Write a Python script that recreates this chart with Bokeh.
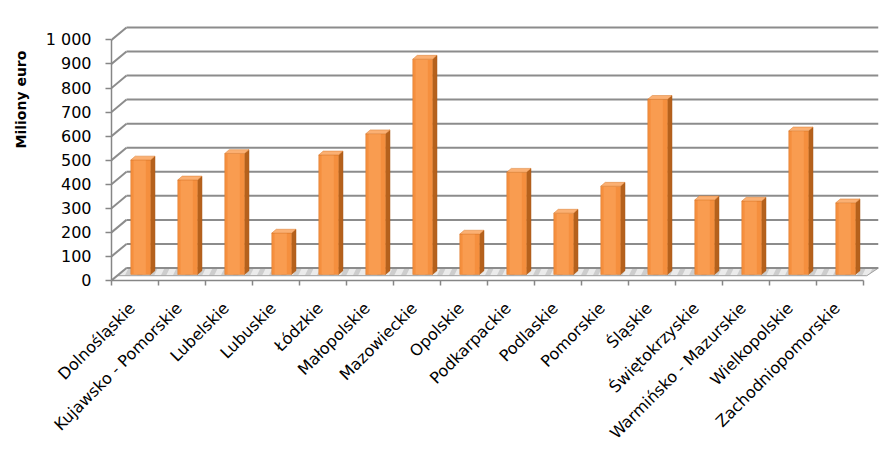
import math
from bokeh.plotting import figure
from bokeh.models import FixedTicker, Range1d, Title
from bokeh.embed import file_html
from bokeh.resources import INLINE

# ---- data ----
regions = ["Dolnośląskie", "Kujawsko - Pomorskie", "Lubelskie", "Lubuskie",
           "Łódzkie", "Małopolskie", "Mazowieckie", "Opolskie",
           "Podkarpackie", "Podlaskie", "Pomorskie", "Śląskie",
           "Świętokrzyskie", "Warmińsko - Mazurskie", "Wielkopolskie",
           "Zachodniopomorskie"]
values = [476, 393, 503, 172, 497, 585, 895, 168, 425, 255, 367, 728, 310, 305, 597, 298]
y_ticks = [0, 100, 200, 300, 400, 500, 600, 700, 800, 900, 1000]
y_tick_labels = {1000: "1 000"}
axis_title = "Miliony euro"

# ---- 3D styling constants ----
N = len(regions)
DX = 0.319      # depth shift of back wall (category units)
DY = 52         # depth shift of back wall (value units)
BASE = 25       # bar base level (front face) on floor
L_OFF, R_OFF = 0.41, 0.83
SD, SDY = 0.095, 16
GRID = "#8c8c8c"
AX = "#868686"
FONT = "DejaVu Sans"

p = figure(width=880, height=452, output_backend="svg", toolbar_location=None,
           x_range=Range1d(0, N + DX), y_range=Range1d(0, 1060),
           min_border_left=110, min_border_right=2, min_border_top=25,
           min_border_bottom=172)
p.outline_line_color = None
p.xgrid.visible = False
p.ygrid.visible = False
p.background_fill_color = "white"
p.border_fill_color = "white"

# floor
p.patch([0.123, N + 0.07, N + DX, DX], [20, 20, DY, DY],
        fill_color="#cdcdcd", line_color="#a0a0a0", line_width=1,
        hatch_pattern="/", hatch_color="white", hatch_alpha=0.6,
        hatch_scale=24, hatch_weight=6)

# back wall gridlines and side diagonals
p.multi_line([[DX, N + DX] for _ in y_ticks], [[v + DY, v + DY] for v in y_ticks],
             line_color=GRID, line_width=2)
p.multi_line([[0, DX] for _ in y_ticks], [[v, v + DY] for v in y_ticks],
             line_color=GRID, line_width=2)

# bars
lefts = [i + L_OFF for i in range(N)]
rights = [i + R_OFF for i in range(N)]
tops = [BASE + v for v in values]
p.patches([[r, r + SD, r + SD, r] for r in rights],
          [[BASE, BASE + SDY, t + SDY, t] for t in tops],
          fill_color="#b5611c", line_color="#a65715", line_width=0.5)
p.quad(left=lefts, right=rights, bottom=[BASE] * N, top=tops,
       fill_color="#f58f3e", line_color="#d97a2e", line_width=0.5)
p.quad(left=[l + 0.06 for l in lefts], right=[r - 0.1 for r in rights],
       bottom=[BASE + 1] * N, top=[t - 1 for t in tops],
       fill_color="#f99c50", line_color=None)
p.patches([[l, r, r + SD, l + SD] for l, r in zip(lefts, rights)],
          [[t, t, t + SDY, t + SDY] for t in tops],
          fill_color="#fbb073", line_color="#d97a2e", line_width=0.5)

# y axis
ya = p.yaxis[0]
ya.ticker = FixedTicker(ticks=y_ticks)
ya.bounds = (0, 1000)
ya.major_label_overrides = y_tick_labels
ya.axis_line_color = AX
ya.axis_line_width = 1.5
ya.major_tick_line_color = AX
ya.major_tick_line_width = 1.5
ya.major_tick_out = 6
ya.major_tick_in = 0
ya.minor_tick_line_color = None
ya.major_label_text_font = FONT
ya.major_label_text_font_size = "16px"
ya.major_label_text_color = "black"
ya.major_label_standoff = 14

# y axis title
p.add_layout(Title(text=axis_title, align="left", offset=132, standoff=24,
                   vertical_align="top", text_font=FONT,
                   text_font_style="bold", text_font_size="14px",
                   text_color="black"), "left")

# x axis
xa = p.xaxis[0]
label_pos = [i + 0.44 for i in range(N)]
xa.ticker = FixedTicker(ticks=label_pos, minor_ticks=list(range(N + 1)))
xa.bounds = (0, N)
xa.major_label_overrides = {c: name for c, name in zip(label_pos, regions)}
xa.axis_line_color = AX
xa.axis_line_width = 1.5
xa.major_tick_line_color = None
xa.major_tick_out = 0
xa.major_tick_in = 0
xa.minor_tick_line_color = AX
xa.minor_tick_line_width = 1.5
xa.minor_tick_out = 5
xa.minor_tick_in = 0
xa.major_label_orientation = math.pi / 4
xa.major_label_text_font = FONT
xa.major_label_text_font_size = "16px"
xa.major_label_text_line_height = 0.8
xa.major_label_text_color = "black"
xa.major_label_standoff = 20

open("out.html", "w").write(file_html(p, INLINE))
